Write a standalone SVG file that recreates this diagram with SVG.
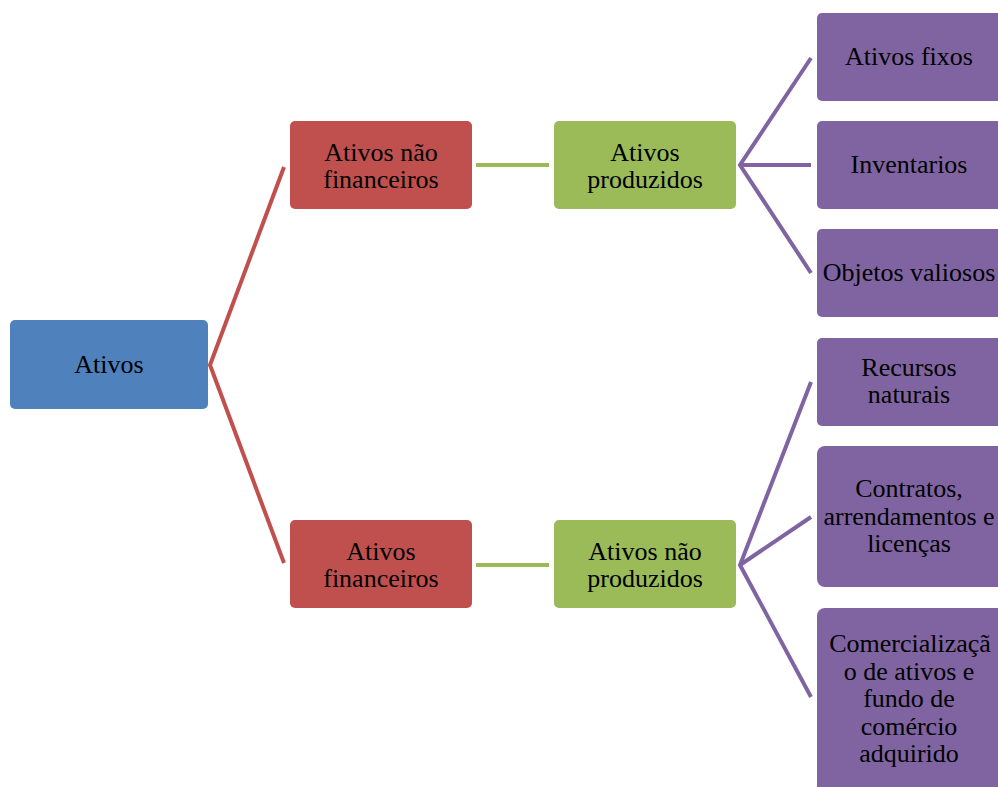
<svg xmlns="http://www.w3.org/2000/svg" width="998" height="787" viewBox="0 0 998 787">
<style>
.b{fill:#4F81BD}.r{fill:#C0504D}.g{fill:#9BBB59}.p{fill:#8064A2}
.lr{stroke:#C0504D;stroke-width:4;fill:none}
.lg{stroke:#9BBB59;stroke-width:4;fill:none}
.lp{stroke:#8064A2;stroke-width:4;fill:none}
</style>
<g id="connectors">
<polyline class="lr" points="284,167 210,365 284,563"/>
<line class="lg" x1="476" y1="165" x2="549" y2="165"/>
<line class="lg" x1="476" y1="565" x2="549" y2="565"/>
<polyline class="lp" points="811,58 740,165 811,273"/>
<line class="lp" x1="740" y1="165" x2="811" y2="165"/>
<polyline class="lp" points="811,382 740,565 811,697"/>
<line class="lp" x1="740" y1="565" x2="811" y2="517"/>
</g>
<g font-family="Liberation Serif, DejaVu Serif, serif" font-size="26" fill="#000" text-anchor="middle">
<g id="n-ativos"><rect class="b" x="10" y="320" width="198" height="89" rx="5"/><text x="109" y="373">Ativos</text></g>
<g id="n-naofin"><rect class="r" x="290" y="121" width="182" height="88" rx="5"/><text x="381" y="161">Ativos não</text><text x="381" y="188">financeiros</text></g>
<g id="n-fin"><rect class="r" x="290" y="520" width="182" height="88" rx="5"/><text x="381" y="560">Ativos</text><text x="381" y="587">financeiros</text></g>
<g id="n-prod"><rect class="g" x="554" y="121" width="182" height="88" rx="5"/><text x="645" y="161">Ativos</text><text x="645" y="188">produzidos</text></g>
<g id="n-naoprod"><rect class="g" x="554" y="520" width="182" height="88" rx="5"/><text x="645" y="560">Ativos não</text><text x="645" y="587">produzidos</text></g>
<g id="n-fixos"><rect class="p" x="817" y="13" width="190" height="88" rx="5"/><text x="909" y="65">Ativos fixos</text></g>
<g id="n-invent"><rect class="p" x="817" y="121" width="190" height="88" rx="5"/><text x="909" y="173">Inventarios</text></g>
<g id="n-objetos"><rect class="p" x="817" y="229" width="190" height="88" rx="5"/><text x="909" y="281">Objetos valiosos</text></g>
<g id="n-recursos"><rect class="p" x="817" y="338" width="190" height="88" rx="5"/><text x="909" y="376">Recursos</text><text x="909" y="403">naturais</text></g>
<g id="n-contratos"><rect class="p" x="817" y="446" width="190" height="141" rx="8"/><text x="909" y="497">Contratos,</text><text x="909" y="525">arrendamentos e</text><text x="909" y="552">licenças</text></g>
<g id="n-comerc"><rect class="p" x="817" y="608" width="190" height="190" rx="8"/><text x="910" y="652">Comercializaçã</text><text x="909" y="680">o de ativos e</text><text x="909" y="707">fundo de</text><text x="909" y="735">comércio</text><text x="909" y="762">adquirido</text></g>
</g>
</svg>
